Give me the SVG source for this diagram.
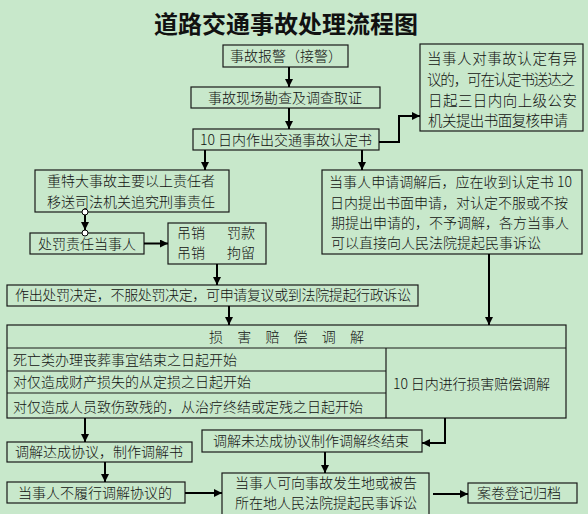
<svg xmlns="http://www.w3.org/2000/svg" width="588" height="514" viewBox="0 0 588 514">
<style>
.bx{fill:none;stroke:#1a1a1a;stroke-width:1.2}
.t{font-family:"Noto Sans CJK SC","Noto Sans",sans-serif;font-size:14px;font-weight:300;fill:#111}
.t15{font-size:14.5px}
.ttl{font-family:"Noto Sans CJK SC","Noto Sans",sans-serif;font-size:24px;font-weight:bold;fill:#111}
.c{fill:none;stroke:#000;stroke-width:2}
.dot{fill:#fff;stroke:#000;stroke-width:1}
</style>
<defs>
<marker id="ah" viewBox="0 0 10 10" refX="10" refY="5" markerUnits="userSpaceOnUse" markerWidth="10" markerHeight="8" orient="auto">
<path d="M0,0 L10,5 L0,10 z" fill="#000"/>
</marker>
</defs>
<rect x="0" y="0" width="588" height="514" fill="#c8e8cb"/>
<text class="ttl" x="286" y="33" text-anchor="middle">道路交通事故处理流程图</text>

<g id="n1"><rect class="bx" x="223" y="45" width="125" height="22"/><text class="t" x="230" y="61">事故报警（接警）</text></g>
<g id="n2"><rect class="bx" x="191" y="87" width="189" height="21"/><text class="t" x="208" y="103">事故现场勘查及调查取证</text></g>
<g id="n3"><rect class="bx" x="193" y="129" width="186" height="21"/><text class="t" x="200" y="145" textLength="172" lengthAdjust="spacing">10 日内作出交通事故认定书</text></g>
<g id="n4"><rect class="bx" x="420" y="44" width="163" height="87"/>
<text class="t t15" x="427" y="64" textLength="150" lengthAdjust="spacing">当事人对事故认定有异</text>
<text class="t t15" x="427" y="85" textLength="148" lengthAdjust="spacing">议的，可在认定书送达之</text>
<text class="t t15" x="428" y="106" textLength="149" lengthAdjust="spacing">日起三日内向上级公安</text>
<text class="t t15" x="428" y="126" textLength="140" lengthAdjust="spacing">机关提出书面复核申请</text></g>
<g id="n5"><rect class="bx" x="35" y="170" width="194" height="42"/>
<text class="t" x="47" y="186">重特大事故主要以上责任者</text>
<text class="t" x="47" y="207">移送司法机关追究刑事责任</text></g>
<g id="n6"><rect class="bx" x="30" y="233" width="114" height="21"/><text class="t" x="38" y="249">处罚责任当事人</text></g>
<g id="n7"><rect class="bx" x="168" y="223" width="98" height="41"/>
<text class="t" y="238"><tspan x="177">吊销</tspan><tspan x="227">罚款</tspan></text>
<text class="t" y="258"><tspan x="177">吊销</tspan><tspan x="227">拘留</tspan></text></g>
<g id="n8"><rect class="bx" x="7" y="285" width="411" height="21"/><text class="t" x="15" y="300" textLength="396" lengthAdjust="spacing">作出处罚决定，不服处罚决定，可申请复议或到法院提起行政诉讼</text></g>
<g id="n9"><rect class="bx" x="322" y="170" width="260" height="84"/>
<text class="t" x="329" y="187" textLength="243" lengthAdjust="spacing">当事人申请调解后，应在收到认定书 10</text>
<text class="t" x="330" y="208">日内提出书面申请，对认定不服或不按</text>
<text class="t" x="331" y="228">期提出申请的，不予调解，各方当事人</text>
<text class="t" x="331" y="248">可以直接向人民法院提起民事诉讼</text></g>
<g id="n10"><rect class="bx" x="7" y="325" width="559" height="93"/>
<line class="bx" x1="7" y1="348" x2="566" y2="348"/>
<line class="bx" x1="386" y1="348" x2="386" y2="418"/>
<line class="bx" x1="7" y1="371" x2="386" y2="371"/>
<line class="bx" x1="7" y1="393" x2="386" y2="393"/>
<text class="t" x="209" y="342" textLength="155" lengthAdjust="spacing">损 害 赔 偿 调 解</text>
<text class="t" x="13" y="365">死亡类办理丧葬事宜结束之日起开始</text>
<text class="t" x="13" y="387">对仅造成财产损失的从定损之日起开始</text>
<text class="t" x="13" y="412">对仅造成人员致伤致残的，从治疗终结或定残之日起开始</text>
<text class="t" x="393" y="389" textLength="157" lengthAdjust="spacing">10 日内进行损害赔偿调解</text></g>
<g id="n11"><rect class="bx" x="7" y="442" width="185" height="20"/><text class="t" x="15" y="457">调解达成协议，制作调解书</text></g>
<g id="n12"><rect class="bx" x="202" y="430" width="220" height="22"/><text class="t" x="213" y="446">调解未达成协议制作调解终结束</text></g>
<g id="n13"><rect class="bx" x="7" y="482" width="178" height="21"/><text class="t" x="18" y="498">当事人不履行调解协议的</text></g>
<g id="n14"><rect class="bx" x="222" y="473" width="207" height="50"/>
<text class="t" x="235" y="488">当事人可向事故发生地或被告</text>
<text class="t" x="235" y="508">所在地人民法院提起民事诉讼</text></g>
<g id="n15"><rect class="bx" x="468" y="483" width="109" height="20"/><text class="t" x="477" y="498">案卷登记归档</text></g>

<g id="connectors">
<line class="c" x1="289" y1="67" x2="289" y2="87" marker-end="url(#ah)"/>
<line class="c" x1="289" y1="108" x2="289" y2="129" marker-end="url(#ah)"/>
<polyline class="c" points="379,142 399,142 399,116 420,116" marker-end="url(#ah)"/>
<line class="c" x1="205" y1="150" x2="205" y2="170" marker-end="url(#ah)"/>
<line class="c" x1="362" y1="150" x2="362" y2="170" marker-end="url(#ah)"/>
<line class="c" x1="85" y1="215" x2="85" y2="230" marker-end="url(#ah)"/>
<circle class="dot" cx="85" cy="212" r="3"/>
<circle class="dot" cx="85" cy="233" r="3"/>
<line class="c" x1="144" y1="243.5" x2="168" y2="243.5" marker-end="url(#ah)"/>
<line class="c" x1="217" y1="264" x2="217" y2="285" marker-end="url(#ah)"/>
<line class="c" x1="229" y1="306" x2="229" y2="325" marker-end="url(#ah)"/>
<line class="c" x1="489" y1="254" x2="489" y2="325" marker-end="url(#ah)"/>
<line class="c" x1="85" y1="418" x2="85" y2="442" marker-end="url(#ah)"/>
<polyline class="c" points="445,418 445,443 422,443" marker-end="url(#ah)"/>
<line class="c" x1="105" y1="462" x2="105" y2="482" marker-end="url(#ah)"/>
<line class="c" x1="185" y1="493" x2="222" y2="493" marker-end="url(#ah)"/>
<line class="c" x1="325" y1="452" x2="325" y2="473" marker-end="url(#ah)"/>
<line class="c" x1="433" y1="494" x2="468" y2="494" marker-end="url(#ah)"/>
</g>
</svg>
